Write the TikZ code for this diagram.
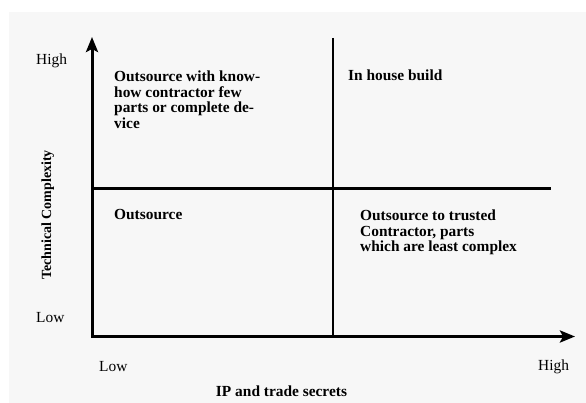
\documentclass[tikz,border=0pt]{standalone}
\usepackage{fontspec}
\setmainfont{Liberation Serif}
\usetikzlibrary{arrows.meta}

\begin{document}
\begin{tikzpicture}[x=1pt, y=-1pt,
  quad/.style = {inner sep=0, anchor=base west, align=left, font=\fontsize{15.4}{15.8}\selectfont\bfseries},
  lab/.style = {inner sep=0, anchor=base west, font=\fontsize{15.4}{16}\selectfont},
  axis/.style = {line width=3pt, line join=miter, {Stealth[length=15pt,width=12pt,inset=3pt]}-{Stealth[length=15pt,width=12pt,inset=3pt]}},
  split/.style = {line width=2.4pt}]
\useasboundingbox (0,0) rectangle (586,403);
\fill[black!3] (9,12) rectangle (586,403);

\coordinate (o) at (92,336.5);
\coordinate (ytop) at (92,37);
\coordinate (xend) at (575,336.5);
\coordinate (hl) at (94,188.5);
\coordinate (hr) at (551,188.5);
\coordinate (vt) at (333,38);
\coordinate (vb) at (333,336);

\draw[split] (hl) -- (hr);
\draw[split] (vt) -- (vb);
\draw[axis] (ytop) -- (o) -- (xend);

% axis labels
\node[lab] (yhigh) at (36,65) {High};
\node[lab] (ylow) at (36,322) {Low};
\node[lab] (xlow) at (99,371) {Low};
\node[lab] (xhigh) at (538,370) {High};
\node[quad, anchor=base] (xname) at (281.5,396) {IP and trade secrets};
\node[quad, font=\fontsize{14}{15}\selectfont\bfseries, rotate=90, anchor=base] (yname) at (51,215) {Technical Complexity};

% quadrants
\node[quad, anchor=north west] (q1) at (114,70.5) {Outsource with know-\\how contractor few\\parts or complete de-\\vice};
\node[quad] (q2) at (348,81) {In house build};
\node[quad] (q3) at (114,220) {Outsource};
\node[quad, anchor=north west] (q4) at (360,209.5) {Outsource to trusted\\Contractor, parts\\which are least complex};
\end{tikzpicture}
\end{document}
